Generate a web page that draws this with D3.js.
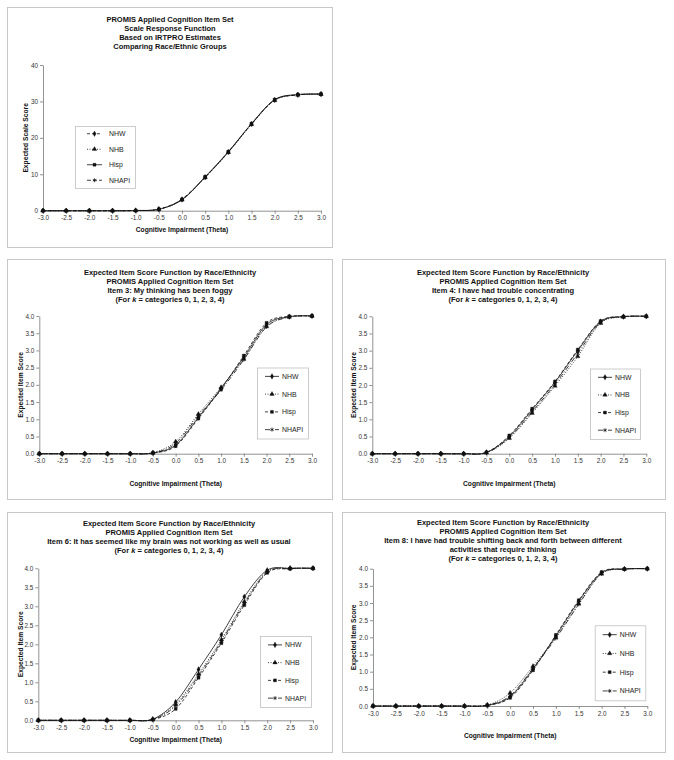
<!DOCTYPE html>
<html>
<head>
<meta charset="utf-8">
<script src="https://cdn.jsdelivr.net/npm/d3@7"></script>
<style>
  html, body { margin: 0; padding: 0; background: #fff; }
  svg { display: block; font-family: "Liberation Sans", Arial, sans-serif; }
</style>
</head>
<body>
<svg id="chart" width="674" height="760"></svg>
<script>
// ---------------- DATA ----------------
const theta = [-3.0, -2.5, -2.0, -1.5, -1.0, -0.5, 0.0, 0.5, 1.0, 1.5, 2.0, 2.5, 3.0];
const groups = ["NHW", "NHB", "Hisp", "NHAPI"];
const xTicks = [-3.0, -2.5, -2.0, -1.5, -1.0, -0.5, 0.0, 0.5, 1.0, 1.5, 2.0, 2.5, 3.0];
const yTicksScale = [0, 10, 20, 30, 40];
const yTicksItem = [0.0, 0.5, 1.0, 1.5, 2.0, 2.5, 3.0, 3.5, 4.0];

// Scale response function (expected scale score)
const scaleNHW   = [0, 0, 0, 0, 0.05, 0.4, 3.1, 9.2, 16.1, 23.8, 30.4, 31.8, 32.0];
const scaleNHB   = [0, 0, 0, 0, 0.05, 0.4, 3.0, 9.1, 16.0, 23.7, 30.3, 31.8, 32.0];
const scaleHisp  = [0, 0, 0, 0, 0.05, 0.4, 3.0, 9.3, 16.2, 23.9, 30.5, 31.9, 32.0];
const scaleNHAPI = [0, 0, 0, 0, 0.05, 0.4, 3.2, 9.2, 16.1, 23.8, 30.4, 31.8, 32.0];

// Item 3
const item3NHW   = [0, 0, 0, 0, 0, 0.02, 0.25, 1.05, 1.90, 2.80, 3.75, 3.98, 4.0];
const item3NHB   = [0, 0, 0, 0, 0, 0.03, 0.35, 1.15, 1.93, 2.75, 3.70, 3.97, 4.0];
const item3Hisp  = [0, 0, 0, 0, 0, 0.02, 0.22, 1.02, 1.88, 2.85, 3.80, 3.99, 4.0];
const item3NHAPI = [0, 0, 0, 0, 0, 0.02, 0.30, 1.10, 1.85, 2.73, 3.68, 3.97, 4.0];

// Item 4
const item4NHW   = [0, 0, 0, 0, 0, 0.04, 0.50, 1.28, 2.08, 3.00, 3.85, 3.99, 4.0];
const item4NHB   = [0, 0, 0, 0, 0, 0.03, 0.45, 1.18, 1.97, 2.83, 3.80, 3.98, 4.0];
const item4Hisp  = [0, 0, 0, 0, 0, 0.04, 0.53, 1.31, 2.10, 3.03, 3.86, 3.99, 4.0];
const item4NHAPI = [0, 0, 0, 0, 0, 0.03, 0.47, 1.22, 2.02, 2.92, 3.82, 3.99, 4.0];

// Item 6
const item6NHW   = [0, 0, 0, 0, 0, 0.03, 0.48, 1.34, 2.25, 3.25, 3.95, 4.0, 4.0];
const item6NHB   = [0, 0, 0, 0, 0, 0.02, 0.42, 1.22, 2.12, 3.12, 3.92, 4.0, 4.0];
const item6Hisp  = [0, 0, 0, 0, 0, 0.02, 0.30, 1.12, 2.03, 3.03, 3.88, 3.99, 4.0];
const item6NHAPI = [0, 0, 0, 0, 0, 0.02, 0.38, 1.17, 2.08, 3.08, 3.90, 3.99, 4.0];

// Item 8
const item8NHW   = [0, 0, 0, 0, 0, 0.02, 0.27, 1.08, 2.04, 3.05, 3.88, 3.99, 4.0];
const item8NHB   = [0, 0, 0, 0, 0, 0.03, 0.38, 1.16, 2.00, 2.98, 3.85, 3.99, 4.0];
const item8Hisp  = [0, 0, 0, 0, 0, 0.02, 0.24, 1.04, 2.07, 3.08, 3.90, 3.99, 4.0];
const item8NHAPI = [0, 0, 0, 0, 0, 0.02, 0.30, 1.10, 1.97, 2.96, 3.86, 3.99, 4.0];

const title1 = ["PROMIS Applied Cognition Item Set", "Scale Response Function", "Based on IRTPRO Estimates", "Comparing Race/Ethnic Groups"];
const title3 = ["Expected Item Score Function by Race/Ethnicity", "PROMIS Applied Cognition Item Set", "Item 3: My thinking has been foggy", "K"];
const title4 = ["Expected Item Score Function by Race/Ethnicity", "PROMIS Applied Cognition Item Set", "Item 4: I have had trouble concentrating", "K"];
const title6 = ["Expected Item Score Function by Race/Ethnicity", "PROMIS Applied Cognition Item Set", "Item 6: It has seemed like my brain was not working as well as usual", "K"];
const title8 = ["Expected Item Score Function by Race/Ethnicity", "PROMIS Applied Cognition Item Set", "Item 8: I have had trouble shifting back and forth between different", "activities that require thinking", "K"];
const xLabel = "Cognitive Impairment (Theta)";
const yLabelScale = "Expected Scale Score";
const yLabelItem = "Expected Item Score";

// ---------------- STYLES ----------------
const styleScale = {
  NHW:   { dash: "3,2",     sym: d3.symbolDiamond },
  NHB:   { dash: "1,1.5",   sym: d3.symbolTriangle },
  Hisp:  { dash: null,      sym: d3.symbolSquare },
  NHAPI: { dash: "4,2",     sym: d3.symbolAsterisk }
};
const styleItem = {
  NHW:   { dash: null,      sym: d3.symbolDiamond },
  NHB:   { dash: "1,1.5",   sym: d3.symbolTriangle },
  Hisp:  { dash: "3,2",     sym: d3.symbolSquare },
  NHAPI: { dash: "5,2,1,2", sym: d3.symbolAsterisk }
};

const panels = [
  { box: [7, 7, 332, 247], plot: [43, 65, 321, 210.7], yDomain: [0, 40], yTicks: yTicksScale, yFmt: d => String(d),
    title: title1, titleX: 170, titleY: [22, 31, 40, 49], xLabelY: 232, yLabelX: 28, yLabel: yLabelScale,
    legend: [75, 126, 135, 188], legOff: [12, 27, 34], style: styleScale,
    series: { NHW: scaleNHW, NHB: scaleNHB, Hisp: scaleHisp, NHAPI: scaleNHAPI } },
  { box: [7, 259, 332, 499], plot: [39.3, 316, 312, 453.7], yDomain: [0, 4], yTicks: yTicksItem, yFmt: d => d.toFixed(1),
    title: title3, titleX: 170, titleY: [275, 284, 293, 302], xLabelY: 485.5, yLabelX: 22.5, yLabel: yLabelItem,
    legend: [257, 367.5, 308, 438.5], legOff: [8, 22, 25], style: styleItem,
    series: { NHW: item3NHW, NHB: item3NHB, Hisp: item3Hisp, NHAPI: item3NHAPI } },
  { box: [342, 259, 665, 499], plot: [372.3, 316.3, 646.3, 453.7], yDomain: [0, 4], yTicks: yTicksItem, yFmt: d => d.toFixed(1),
    title: title4, titleX: 503, titleY: [275, 284, 293, 302], xLabelY: 485.5, yLabelX: 355.5, yLabel: yLabelItem,
    legend: [590, 368.5, 640, 439], legOff: [8, 22, 25], style: styleItem,
    series: { NHW: item4NHW, NHB: item4NHB, Hisp: item4Hisp, NHAPI: item4NHAPI } },
  { box: [7, 512, 332, 752], plot: [38.3, 568.3, 313, 720.3], yDomain: [0, 4], yTicks: yTicksItem, yFmt: d => d.toFixed(1),
    title: title6, titleX: 169, titleY: [525.5, 534.5, 543.5, 552.5], xLabelY: 742, yLabelX: 22.5, yLabel: yLabelItem,
    legend: [260, 636, 311, 707], legOff: [8, 22, 25], style: styleItem,
    series: { NHW: item6NHW, NHB: item6NHB, Hisp: item6Hisp, NHAPI: item6NHAPI } },
  { box: [342, 512, 665, 752], plot: [373, 568.7, 647.3, 706], yDomain: [0, 4], yTicks: yTicksItem, yFmt: d => d.toFixed(1),
    title: title8, titleX: 503, titleY: [525, 534, 543, 552, 561], xLabelY: 737.5, yLabelX: 356, yLabel: yLabelItem,
    legend: [594.7, 625.3, 645.3, 700.3], legOff: [8, 22, 25], style: styleItem,
    series: { NHW: item8NHW, NHB: item8NHB, Hisp: item8Hisp, NHAPI: item8NHAPI } }
];

const svg = d3.select("#chart");

function marker(sel, st) {
  const isAst = st.sym === d3.symbolAsterisk;
  sel.attr("d", d3.symbol().type(st.sym).size(isAst ? 11 : 9))
    .attr("fill", isAst ? "none" : "#111").attr("stroke", "#111").attr("stroke-width", isAst ? 0.7 : 0.3);
}

panels.forEach(p => {
  const g = svg.append("g");
  const [bx0, by0, bx1, by1] = p.box;
  g.append("rect").attr("x", bx0 + 0.5).attr("y", by0 + 0.5).attr("width", bx1 - bx0).attr("height", by1 - by0)
    .attr("fill", "#fff").attr("stroke", "#c8c8c8").attr("stroke-width", 1);

  const [px0, py0, px1, py1] = p.plot;
  const x = d3.scaleLinear().domain([-3, 3]).range([px0, px1]);
  const y = d3.scaleLinear().domain(p.yDomain).range([py1, py0]);

  // axes
  const xAxis = d3.axisBottom(x).tickValues(xTicks).tickFormat(d => d.toFixed(1)).tickSizeInner(3).tickSizeOuter(0).tickPadding(2);
  const yAxis = d3.axisLeft(y).tickValues(p.yTicks).tickFormat(p.yFmt).tickSizeInner(3).tickSizeOuter(0).tickPadding(2);
  const gx = g.append("g").attr("transform", `translate(0,${py1})`).call(xAxis);
  const gy = g.append("g").attr("transform", `translate(${px0},0)`).call(yAxis);
  [gx, gy].forEach(a => {
    a.select(".domain").attr("stroke", "#777").attr("stroke-width", 0.8);
    a.selectAll(".tick line").attr("stroke", "#777").attr("stroke-width", 0.8);
    a.selectAll(".tick text").attr("fill", "#333").style("font-size", "6.4px").style("font-family", "Liberation Sans, Arial, sans-serif");
  });

  // title
  p.title.forEach((line, i) => {
    const ts = g.append("text").attr("x", p.titleX).attr("y", p.titleY[i]).attr("text-anchor", "middle")
      .attr("font-weight", "bold").style("font-size", "7.5px").attr("fill", "#111");
    if (line === "K") {
      ts.append("tspan").text("(For ");
      ts.append("tspan").attr("font-style", "italic").text("k");
      ts.append("tspan").text(" = categories 0, 1, 2, 3, 4)");
    } else {
      ts.text(line);
    }
  });

  // axis labels
  g.append("text").attr("x", (px0 + px1) / 2).attr("y", p.xLabelY).attr("text-anchor", "middle")
    .attr("font-weight", "bold").style("font-size", "6.7px").attr("fill", "#111").text(xLabel);
  g.append("text").attr("transform", `translate(${p.yLabelX},${(py0 + py1) / 2}) rotate(-90)`)
    .attr("text-anchor", "middle").attr("font-weight", "bold").style("font-size", "6.7px").attr("fill", "#111").text(p.yLabel);

  // lines
  const line = d3.line().curve(d3.curveCatmullRom.alpha(0)).x((d, i) => x(theta[i])).y(d => y(d));
  groups.forEach(gr => {
    const st = p.style[gr];
    const vals = p.series[gr];
    g.append("path").datum(vals).attr("d", line).attr("fill", "none").attr("stroke", "#111")
      .attr("stroke-width", 0.8).attr("stroke-dasharray", st.dash);
    g.selectAll(null).data(vals).enter().append("path")
      .attr("transform", (d, i) => `translate(${x(theta[i])},${y(d)})`)
      .call(marker, st);
  });

  // legend
  const [lx0, ly0, lx1, ly1] = p.legend;
  const [o1, o2, ot] = p.legOff;
  g.append("rect").attr("x", lx0 + 0.5).attr("y", ly0 + 0.5).attr("width", lx1 - lx0).attr("height", ly1 - ly0)
    .attr("fill", "#fff").attr("stroke", "#c0c0c0").attr("stroke-width", 0.8);
  groups.forEach((gr, i) => {
    const st = p.style[gr];
    const ly = ly0 + (ly1 - ly0) * (i + 0.5) / 4;
    g.append("line").attr("x1", lx0 + o1).attr("x2", lx0 + o2).attr("y1", ly).attr("y2", ly)
      .attr("stroke", "#111").attr("stroke-width", 0.8).attr("stroke-dasharray", st.dash);
    g.append("path").attr("transform", `translate(${lx0 + (o1 + o2) / 2},${ly})`).call(marker, st);
    g.append("text").attr("x", lx0 + ot).attr("y", ly + 2.4).style("font-size", "6.9px").attr("fill", "#222").text(gr);
  });
});
</script>
</body>
</html>
